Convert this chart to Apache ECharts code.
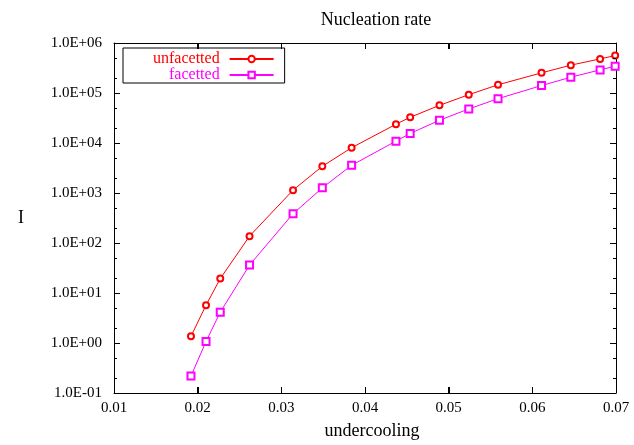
<!DOCTYPE html>
<html>
<head>
<meta charset="utf-8">
<script src="https://cdn.jsdelivr.net/npm/echarts@6/dist/echarts.min.js"></script>
<style>html,body{margin:0;padding:0;background:#fff;}#c{width:634px;height:445px;}</style>
</head>
<body>
<div id="c"></div>
<script>
const undercooling = [0.0192, 0.0210, 0.0227, 0.0262, 0.0314, 0.0349, 0.0384, 0.0437, 0.0454, 0.0489, 0.0524, 0.0559, 0.0611, 0.0646, 0.0681, 0.0699];
const unfacetted = [1.36, 5.7, 19.4, 137, 1140, 3420, 8050, 23700, 32700, 56600, 92500, 146000, 253000, 360000, 481000, 560000];
const facetted = [0.218, 1.07, 4.14, 36.2, 385, 1267, 3580, 10900, 15500, 28500, 48000, 77000, 141000, 207000, 290000, 344000];
const xTicks = [0.01, 0.02, 0.03, 0.04, 0.05, 0.06, 0.07];
const yMajorTicks = [0.1, 1, 10, 100, 1000, 10000, 100000, 1000000];
const yMinorTicks = [0.2, 0.5, 2, 5, 20, 50, 200, 500, 2000, 5000, 20000, 50000, 200000, 500000];

const FONT = 'Liberation Serif';
const X_MIN = 0.01, X_MAX = 0.07, Y_MIN = 0.1, Y_MAX = 1000000;
function fmtE(v) {
  const e = Math.round(Math.log10(v));
  const m = v / Math.pow(10, e);
  const sign = e < 0 ? '-' : '+';
  const a = Math.abs(e);
  return m.toFixed(1) + 'E' + sign + (a < 10 ? '0' + a : '' + a);
}
function pairs(xs, ys) { return xs.map((x, i) => [x, ys[i]]); }
function box(x, y, w, h) {
  return {type: 'rect', shape: {x: x, y: y, width: w, height: h}, style: {fill: '#000', stroke: null}, silent: true};
}
// tick marks placed through the axes' own scales (api.coord)
function xTickRender(len) {
  return function (params, api) {
    const v = api.value(0);
    const b = api.coord([v, Y_MIN]);
    const t = api.coord([v, Y_MAX]);
    const x = Math.round(b[0]);
    return {type: 'group', children: [box(x, Math.round(b[1]) - len, 1, len), box(x, Math.round(t[1]), 1, len)]};
  };
}
function yTickRender(len) {
  return function (params, api) {
    const v = api.value(1);
    const l = api.coord([X_MIN, v]);
    const r = api.coord([X_MAX, v]);
    const y = Math.round(l[1]);
    return {type: 'group', children: [box(Math.round(l[0]), y, len, 1), box(Math.round(r[0]) - len, y, len, 1)]};
  };
}

const chart = echarts.init(document.getElementById('c'), null, {renderer: 'canvas'});
chart.setOption({
  animation: false,
  backgroundColor: '#fff',
  tooltip: {show: false},
  title: {
    text: 'Nucleation rate', left: 371, top: 6, textAlign: 'center',
    textStyle: {fontFamily: FONT, fontSize: 18, fontWeight: 'normal', color: '#000'}
  },
  legend: {
    left: 123, top: 48, orient: 'vertical', align: 'right',
    padding: [3, 10, 0, 30], itemGap: 0, itemWidth: 44, itemHeight: 8,
    borderColor: '#000', borderWidth: 1,
    textStyle: {fontFamily: FONT, fontSize: 16, lineHeight: 15, padding: [0, 5, 0, 0]},
    data: [
      {name: 'unfacetted', textStyle: {color: '#ff0000'}},
      {name: 'facetted', textStyle: {color: '#ff00ff'}}
    ]
  },
  grid: {left: 114, right: 18, top: 43, bottom: 50, containLabel: false},
  xAxis: [
    {
      type: 'value', min: X_MIN, max: X_MAX, interval: 0.01, position: 'bottom',
      name: 'undercooling', nameLocation: 'middle', nameGap: 29,
      nameTextStyle: {fontFamily: FONT, fontSize: 18, color: '#000', padding: [0, 0, 0, 14]},
      axisLine: {show: true, onZero: false, lineStyle: {color: '#000', width: 1}},
      axisTick: {show: true, inside: true, length: 6, lineStyle: {color: '#000', width: 1}},
      axisLabel: {fontFamily: FONT, fontSize: 15, color: '#000', margin: 8,
        formatter: v => v.toFixed(2)},
      splitLine: {show: false}
    },
    {
      type: 'value', min: X_MIN, max: X_MAX, interval: 0.01, position: 'top',
      axisLine: {show: true, onZero: false, lineStyle: {color: '#000', width: 1}},
      axisTick: {show: true, inside: true, length: 6, lineStyle: {color: '#000', width: 1}},
      axisLabel: {show: false},
      splitLine: {show: false}
    }
  ],
  yAxis: [
    {
      type: 'log', logBase: 10, min: Y_MIN, max: Y_MAX, splitNumber: 7,
      position: 'left',
      name: 'I', nameLocation: 'middle', nameRotate: 0, nameGap: 90,
      nameTextStyle: {fontFamily: FONT, fontSize: 18, color: '#000'},
      axisLine: {show: true, lineStyle: {color: '#000', width: 1}},
      axisTick: {show: true, inside: true, length: 6, lineStyle: {color: '#000', width: 1}},
      axisLabel: {fontFamily: FONT, fontSize: 15, color: '#000', margin: 12, formatter: fmtE},
      splitLine: {show: false}
    },
    {
      type: 'log', logBase: 10, min: Y_MIN, max: Y_MAX, splitNumber: 7,
      position: 'right',
      axisLine: {show: true, lineStyle: {color: '#000', width: 1}},
      axisTick: {show: true, inside: true, length: 6, lineStyle: {color: '#000', width: 1}},
      axisLabel: {show: false},
      splitLine: {show: false}
    }
  ],
  series: [
    {
      name: 'unfacetted', type: 'line', xAxisIndex: 0, yAxisIndex: 0,
      data: pairs(undercooling, unfacetted),
      symbol: 'emptyCircle', symbolSize: 6,
      lineStyle: {color: '#ff0000', width: 1},
      itemStyle: {color: '#ff0000', borderColor: '#ff0000', borderWidth: 2},
      z: 3
    },
    {
      name: 'facetted', type: 'line', xAxisIndex: 0, yAxisIndex: 0,
      data: pairs(undercooling, facetted),
      symbol: 'emptyRect', symbolSize: 7,
      lineStyle: {color: '#ff00ff', width: 1},
      itemStyle: {color: '#ff00ff', borderColor: '#ff00ff', borderWidth: 1},
      z: 3
    },
    {
      name: 'xticks', type: 'custom', xAxisIndex: 0, yAxisIndex: 0, silent: true, z: 4, clip: false,
      data: xTicks.map(v => [v, 1]), renderItem: xTickRender(6)
    },
    {
      name: 'yticksMajor', type: 'custom', xAxisIndex: 0, yAxisIndex: 0, silent: true, z: 4, clip: false,
      data: yMajorTicks.map(v => [X_MIN, v]), renderItem: yTickRender(6)
    },
    {
      name: 'yticksMinor', type: 'custom', xAxisIndex: 0, yAxisIndex: 0, silent: true, z: 4, clip: false,
      data: yMinorTicks.map(v => [X_MIN, v]), renderItem: yTickRender(3)
    }
  ]
});
</script>
</body>
</html>
